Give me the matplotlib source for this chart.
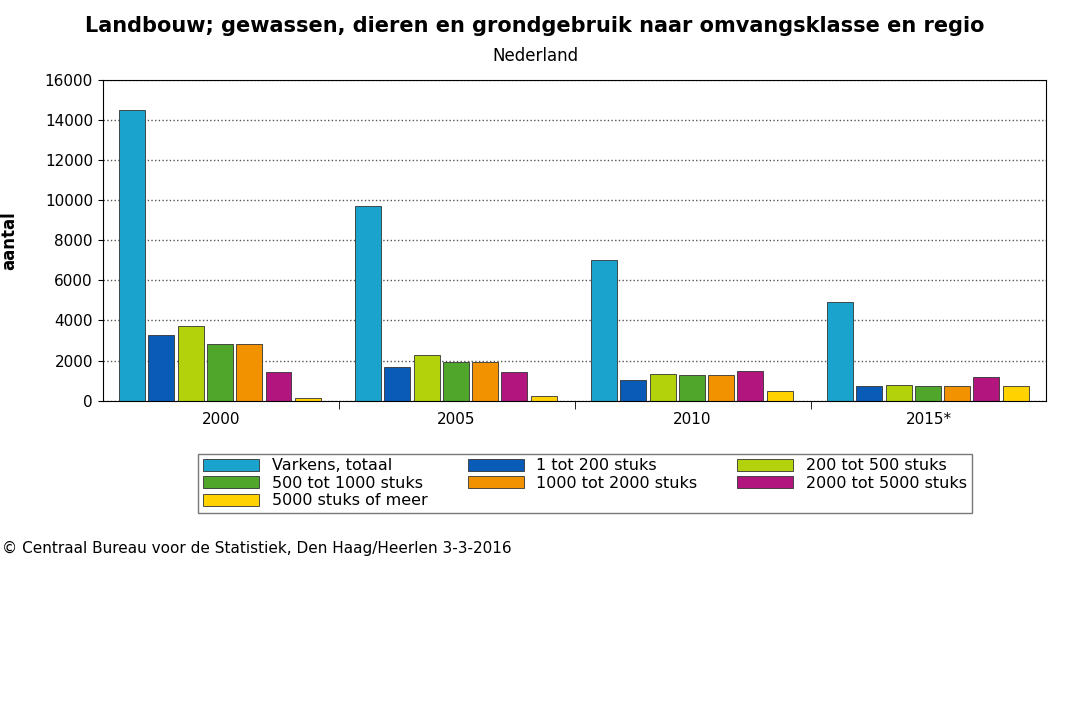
import matplotlib
matplotlib.use("Agg")
import matplotlib.pyplot as plt
import numpy as np

years = ["2000", "2005", "2010", "2015*"]
series = ["Varkens, totaal", "1 tot 200 stuks", "200 tot 500 stuks", "500 tot 1000 stuks",
          "1000 tot 2000 stuks", "2000 tot 5000 stuks", "5000 stuks of meer"]
values = [
    [14500, 9700, 7000, 4900],
    [3300, 1700, 1050, 750],
    [3750, 2300, 1350, 800],
    [2850, 1950, 1300, 750],
    [2850, 1950, 1300, 750],
    [1450, 1450, 1500, 1200],
    [150, 250, 500, 750],
]
colors = ["#1aa3cc", "#0a5bb8", "#b4d20c", "#4fa62a", "#f39200", "#b3157f", "#ffd200"]

fig = plt.figure(figsize=(10.70, 7.13), dpi=100)
ax = fig.add_axes([0.096, 0.438, 0.882, 0.45])
x = np.arange(len(years))
w = 0.11
handles = []
for j, (s, v, c) in enumerate(zip(series, values, colors)):
    b = ax.bar(x - 0.43 + w / 2 + j * (w + 0.014), v, width=w, color=c, edgecolor="#333333",
               linewidth=0.6, label=s)
    handles.append(b)
ax.set_xlim(-0.5, 3.5)
ax.set_ylim(0, 16000)
ax.set_yticks(range(0, 16001, 2000))
ax.set_xticks(x)
ax.set_xticklabels(years, fontsize=11)
ax.tick_params(axis="x", length=0, pad=8)
ax.set_xticks([0.5, 1.5, 2.5], minor=True)
ax.tick_params(axis="x", which="minor", length=6)
ax.tick_params(axis="y", labelsize=11)
ax.grid(axis="y", linestyle=":", color="#555555", linewidth=1)
ax.set_axisbelow(True)
ax.set_ylabel("aantal", fontsize=12, fontweight="bold", labelpad=4)
ax.yaxis.set_label_coords(-0.09, 0.5)

fig.text(0.5, 0.955, "Landbouw; gewassen, dieren en grondgebruik naar omvangsklasse en regio",
         ha="center", fontsize=15, fontweight="bold")
fig.text(0.5, 0.915, "Nederland", ha="center", fontsize=12)
order = [0, 3, 6, 1, 4, 2, 5]
leg = fig.legend([handles[i] for i in order], [series[i] for i in order],
                 loc="upper left", bbox_to_anchor=(0.178, 0.375), ncol=3, fontsize=11.5,
                 frameon=True, fancybox=False, edgecolor="#555555", handlelength=3.5,
                 handleheight=0.8, borderpad=0.3, labelspacing=0.15, columnspacing=2.5)
fig.text(0.002, 0.225, "© Centraal Bureau voor de Statistiek, Den Haag/Heerlen 3-3-2016",
         fontsize=11)
fig.savefig("out.png", dpi=100)
